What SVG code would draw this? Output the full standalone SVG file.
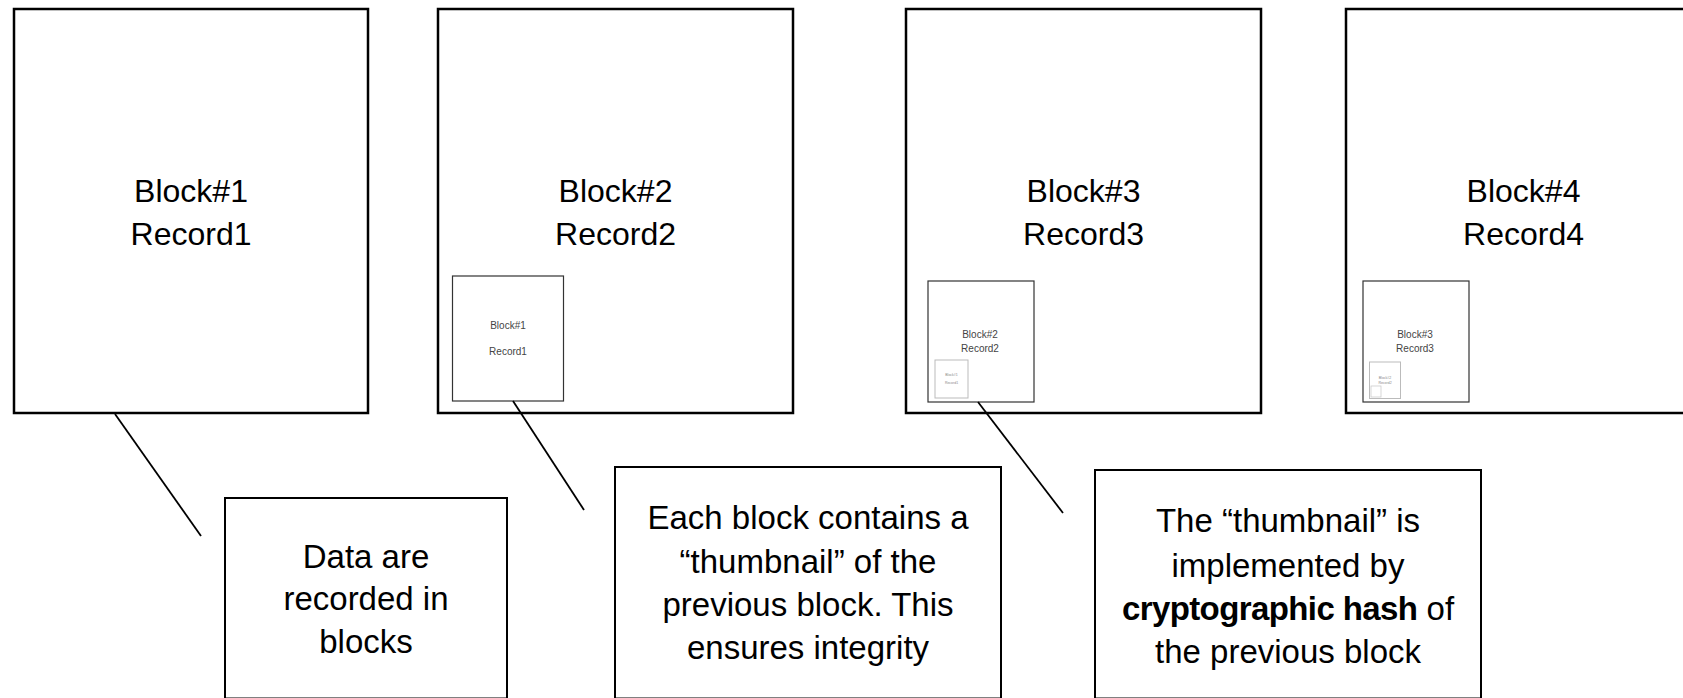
<svg xmlns="http://www.w3.org/2000/svg" width="1683" height="698" viewBox="0 0 1683 698">
  <style>
    .blk { fill: #ffffff; stroke: #000000; stroke-width: 2.5; }
    .note { fill: #ffffff; stroke: #000000; stroke-width: 2; }
    .thumb { fill: #ffffff; stroke: #333333; stroke-width: 1.2; }
    .thumb2 { fill: #ffffff; stroke: #bbbbbb; stroke-width: 1; }
    .thumb3 { fill: #ffffff; stroke: #cccccc; stroke-width: 0.8; }
    .big { font-family: "Liberation Sans", Arial, sans-serif; font-size: 32px; fill: #000000; text-anchor: middle; }
    .txt { font-family: "Liberation Sans", Arial, sans-serif; font-size: 33px; fill: #000000; text-anchor: middle; }
    .small { font-family: "Liberation Sans", Arial, sans-serif; font-size: 10px; fill: #444444; text-anchor: middle; }
    .tiny { font-family: "Liberation Sans", Arial, sans-serif; font-size: 3.5px; fill: #888888; text-anchor: middle; }
    .link { stroke: #000000; stroke-width: 1.8; fill: none; }
  </style>

  <rect width="1683" height="698" fill="#ffffff"/>

  <!-- chain of blocks -->
  <g id="block1">
    <rect class="blk" x="14" y="9" width="354" height="404"/>
    <text class="big" x="191" y="202">Block#1</text>
    <text class="big" x="191" y="245">Record1</text>
  </g>

  <g id="block2">
    <rect class="blk" x="438" y="9" width="355" height="404"/>
    <text class="big" x="615.5" y="202">Block#2</text>
    <text class="big" x="615.5" y="245">Record2</text>
    <g id="block2-thumb">
      <rect class="thumb" x="452.5" y="276" width="111" height="125"/>
      <text class="small" x="508" y="328.5">Block#1</text>
      <text class="small" x="508" y="355">Record1</text>
    </g>
  </g>

  <g id="block3">
    <rect class="blk" x="906" y="9" width="355" height="404"/>
    <text class="big" x="1083.5" y="202">Block#3</text>
    <text class="big" x="1083.5" y="245">Record3</text>
    <g id="block3-thumb">
      <rect class="thumb" x="928" y="281" width="106" height="121"/>
      <text class="small" x="980" y="338" font-size="9.5">Block#2</text>
      <text class="small" x="980" y="352" font-size="9.5">Record2</text>
      <rect class="thumb2" x="935" y="360" width="33" height="38"/>
      <text class="tiny" x="951.5" y="375.5">Block#1</text>
      <text class="tiny" x="951.5" y="384">Record1</text>
    </g>
  </g>

  <g id="block4">
    <rect class="blk" x="1346" y="9" width="355" height="404"/>
    <text class="big" x="1523.5" y="202">Block#4</text>
    <text class="big" x="1523.5" y="245">Record4</text>
    <g id="block4-thumb">
      <rect class="thumb" x="1363" y="281" width="106" height="121"/>
      <text class="small" x="1415" y="338" font-size="9.5">Block#3</text>
      <text class="small" x="1415" y="352" font-size="9.5">Record3</text>
      <rect class="thumb2" x="1369.5" y="362" width="31" height="36.5"/>
      <text class="tiny" x="1385" y="378.5" font-size="3">Block#2</text>
      <text class="tiny" x="1385" y="383.5" font-size="3">Record2</text>
      <rect class="thumb3" x="1371" y="386" width="10" height="11"/>
    </g>
  </g>

  <!-- callout leaders -->
  <g id="connectors">
    <line class="link" x1="115" y1="414" x2="201" y2="536"/>
    <line class="link" x1="513" y1="401" x2="584" y2="510"/>
    <line class="link" x1="978" y1="402" x2="1063" y2="513"/>
  </g>

  <!-- explanatory notes -->
  <g id="note1">
    <rect class="note" x="225" y="498" width="282" height="200.5"/>
    <text class="txt" x="366" y="568">Data are</text>
    <text class="txt" x="366" y="610">recorded in</text>
    <text class="txt" x="366" y="653">blocks</text>
  </g>

  <g id="note2">
    <rect class="note" x="615" y="467" width="386" height="231.5"/>
    <text class="txt" x="808" y="529">Each block contains a</text>
    <text class="txt" x="808" y="573">“thumbnail” of the</text>
    <text class="txt" x="808" y="616">previous block. This</text>
    <text class="txt" x="808" y="659">ensures integrity</text>
  </g>

  <g id="note3">
    <rect class="note" x="1095" y="470" width="386" height="228.5"/>
    <text class="txt" x="1288" y="532">The “thumbnail” is</text>
    <text class="txt" x="1288" y="577">implemented by</text>
    <text class="txt" x="1288" y="620"><tspan font-weight="bold" letter-spacing="-0.6">cryptographic hash</tspan> of</text>
    <text class="txt" x="1288" y="663">the previous block</text>
  </g>
</svg>
